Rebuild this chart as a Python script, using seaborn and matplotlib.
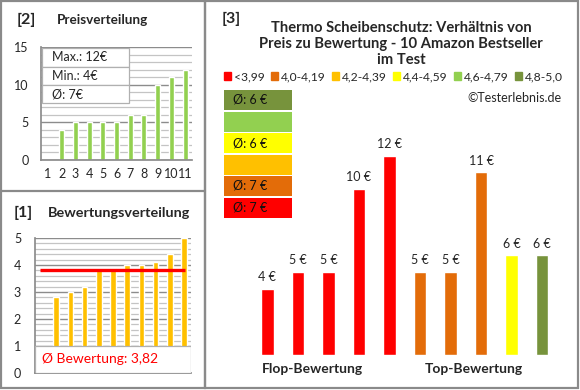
import matplotlib
matplotlib.use("Agg")
import matplotlib.pyplot as plt
import matplotlib.patches as mpatches
import numpy as np
import pandas as pd
import seaborn as sns

# ---- data -------------------------------------------------------------
price_slots = ["1", "2", "3", "4", "5", "6", "7", "8", "9", "10", "11"]
price_values = [0, 4, 5, 5, 5, 5, 6, 6, 10, 11, 12]
price_max, price_min, price_avg = 12, 4, 7

rating_slots = ["1", "2", "3", "4", "5", "6", "7", "8", "9", "10", "11"]
rating_values = [0, 2.8, 3.0, 3.2, 3.8, 3.9, 4.0, 4.0, 4.1, 4.4, 5.0]
rating_avg = 3.82

product_ids = ["p1", "p2", "p3", "p4", "p5", "p6", "p7", "p8", "p9", "p10"]
product_prices = [4, 5, 5, 10, 12, 5, 5, 11, 6, 6]
product_classes = ["<3,99", "<3,99", "<3,99", "<3,99", "<3,99",
                   "4,0-4,19", "4,0-4,19", "4,0-4,19", "4,4-4,59", "4,8-5,0"]

class_labels = ["<3,99", "4,0-4,19", "4,2-4,39", "4,4-4,59", "4,6-4,79", "4,8-5,0"]
class_colors = ["#FF0000", "#E36C09", "#FFC000", "#FFFF00", "#92D050", "#77933C"]
class_avg_text = ["Ø: 7 €", "Ø: 7 €", "", "Ø: 6 €", "", "Ø: 6 €"]

W, H = 580, 390
FONT = "Lato"
BORDER = "#8a8a8a"

sns.set_theme(style="white")
plt.rcParams["font.family"] = [FONT, "DejaVu Sans"]

fig = plt.figure(figsize=(W / 100, H / 100), dpi=100)


def ax_px(x0, y0, w, h, **kw):
    return fig.add_axes([x0 / W, 1 - (y0 + h) / H, w / W, h / H], **kw)


def style_grid(ax, major, minor):
    ax.set_yticks(major)
    ax.set_yticks(minor, minor=True)
    ax.grid(axis="y", which="major", color="#8c8c8c", lw=1.0)
    ax.grid(axis="y", which="minor", color="#c4c4c4", lw=0.9)
    ax.set_axisbelow(True)
    for s in ["top", "right"]:
        ax.spines[s].set_visible(False)
    ax.spines["left"].set_color("#8c8c8c")
    ax.spines["bottom"].set_color("#8c8c8c")
    ax.set_xlabel("")
    ax.set_ylabel("")


# ---- [2] Preisverteilung ----------------------------------------------
ax2 = ax_px(41, 47, 151, 113)
sns.barplot(x=price_slots, y=price_values, order=price_slots, color="#92D050",
            width=0.37, saturation=1, ax=ax2)
ax2.set_ylim(0, 15)
ax2.set_xlim(-0.5, 10.5)
style_grid(ax2, [0, 5, 10, 15], np.arange(0, 16, 1))
ax2.tick_params(axis="y", length=0, labelsize=9, pad=9)
ax2.tick_params(axis="x", length=0, labelsize=9, pad=6)
ax2.xaxis.set_tick_params(which="minor", length=0)
ax2.yaxis.set_tick_params(which="minor", length=0)

rows = [f"Max.: {price_max}€", f"Min.: {price_min}€", f"Ø: {price_avg}€"]
for i, t in enumerate(rows):
    ax2.add_patch(mpatches.Rectangle((0.005, 0.99 - (i + 1) * 0.163), 0.58, 0.163,
                                     transform=ax2.transAxes, facecolor="white",
                                     edgecolor="#b0b0b0", lw=0.9, zorder=5))
    ax2.text(0.07, 0.99 - (i + 0.5) * 0.163, t, transform=ax2.transAxes,
             fontsize=9, va="center", ha="left", zorder=6)

# ---- [1] Bewertungsverteilung -----------------------------------------
ax1 = ax_px(35, 238, 156, 135)
sns.barplot(x=rating_slots, y=rating_values, order=rating_slots, color="#FFC000",
            width=0.4, saturation=1, ax=ax1)
ax1.set_ylim(0, 5)
ax1.set_xlim(-0.5, 10.5)
style_grid(ax1, [0, 1, 2, 3, 4, 5], np.arange(0, 5.01, 0.2))
ax1.tick_params(axis="y", which="major", length=3, color="#8c8c8c", labelsize=9, pad=7)
ax1.tick_params(axis="y", which="minor", length=0)
ax1.tick_params(axis="x", length=0, labelbottom=False)
ax1.plot([-0.15, 10.1], [rating_avg, rating_avg], color="#FF0000", lw=2.4,
         solid_capstyle="butt", zorder=4)
ax1.add_patch(mpatches.Rectangle((0, 0), 1, 0.2, transform=ax1.transAxes,
                                 facecolor="white", edgecolor="#b0b0b0", lw=0.9, zorder=5))
ax1.text(0.42, 0.105, "Ø Bewertung: " + f"{rating_avg:.2f}".replace(".", ","),
         transform=ax1.transAxes, color="#FF0000", fontsize=10, ha="center",
         va="center", zorder=6)

# ---- [3] Preis zu Bewertung -------------------------------------------
ax3 = ax_px(252, 106, 305.5, 249)
df = pd.DataFrame({"id": product_ids, "price": product_prices, "cls": product_classes})
palette = dict(zip(class_labels, class_colors))
sns.barplot(data=df, x="id", y="price", hue="cls", palette=palette, dodge=False,
            width=0.41, saturation=1, legend=False, ax=ax3)
ax3.set_ylim(0, 15)
ax3.set_xlim(-0.5, 9.5)
ax3.axis("off")
for i, v in enumerate(product_prices):
    ax3.text(i, v + 0.35, f"{v} €", ha="center", va="bottom", fontsize=9)

# ---- overlay: frames, titles, legend ----------------------------------
ov = fig.add_axes([0, 0, 1, 1], zorder=10)
ov.set_xlim(0, W)
ov.set_ylim(H, 0)
ov.axis("off")
ov.patch.set_alpha(0)

ov.add_patch(mpatches.Rectangle((1, 1), 204, 387, fill=False, edgecolor=BORDER, lw=1.6))
ov.plot([1, 205], [191, 191], color=BORDER, lw=1.6)
ov.add_patch(mpatches.Rectangle((205, 1), 373, 387, fill=False, edgecolor=BORDER, lw=1.6))

ov.text(17, 20, "[2]", fontsize=11.5, fontweight="bold", va="center")
ov.text(57, 20, "Preisverteilung", fontsize=9.7, fontweight="bold", va="center")
ov.text(14, 213, "[1]", fontsize=11.5, fontweight="bold", va="center")
ov.text(48, 213, "Bewertungsverteilung", fontsize=10.4, fontweight="bold", va="center")
ov.text(222, 19, "[3]", fontsize=11.5, fontweight="bold", va="center")

title = "Thermo Scheibenschutz: Verhältnis von\nPreis zu Bewertung - 10 Amazon Bestseller\nim Test"
ov.text(401, 44, title, fontsize=10.6, fontweight="bold", ha="center", va="center",
        linespacing=1.2)

handles = [mpatches.Patch(color=c, label=l) for l, c in zip(class_labels, class_colors)]
ov.legend(handles=handles, loc="center", bbox_to_anchor=(393.5 / W, 1 - 77 / H),
          bbox_transform=fig.transFigure, ncol=6, frameon=False, fontsize=8.7,
          handlelength=0.6, handleheight=0.6, handletextpad=0.25, columnspacing=0.5,
          borderpad=0, borderaxespad=0)

ov.text(562, 98, "©Testerlebnis.de", fontsize=9, ha="right", va="center")

# average price per rating class, stacked swatches (best class on top)
for k, idx in enumerate(reversed(range(len(class_labels)))):
    y0 = 90 + k * 21.5
    ov.add_patch(mpatches.Rectangle((223.5, y0), 68, 20, facecolor=class_colors[idx],
                                    edgecolor="none"))
    if class_avg_text[idx]:
        ov.text(233, y0 + 10, class_avg_text[idx], fontsize=9, va="center",
                color="#111111")

ov.text(312, 369, "Flop-Bewertung", fontsize=10, fontweight="bold", ha="center", va="center")
ov.text(474, 369, "Top-Bewertung", fontsize=10, fontweight="bold", ha="center", va="center")

fig.savefig("out.png", dpi=100)
